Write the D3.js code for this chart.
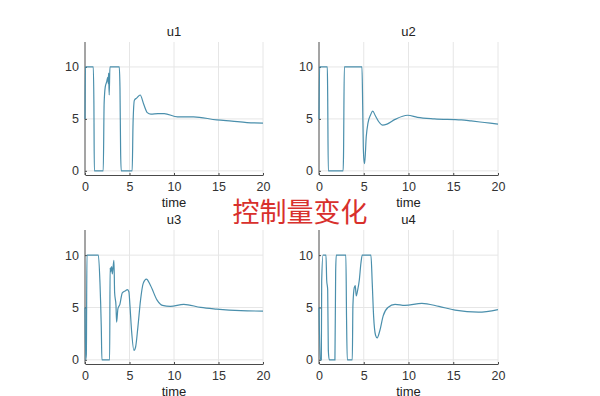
<!DOCTYPE html>
<html lang="zh">
<head>
    <meta charset="UTF-8">
    <title>控制量变化</title>
    <script src="https://d3js.org/d3.v7.min.js"></script>
    <style>
        body {
            margin: 0;
            padding: 0;
            background-color: white;
        }
        svg {
            display: block;
            font-family: 'Liberation Sans', Arial, sans-serif;
        }
    </style>
</head>
<body>
    <svg width="600" height="396"></svg>

    <script>
        // data: [time, value]
        const u1 = [[0,5],[0.05,10],[0.93,10],[1.0,6.5],[1.05,0],[2.05,0],[2.15,6.5],[2.28,8.1],[2.45,8.6],[2.55,9.0],[2.62,8.4],[2.65,9.4],[2.72,7.3],[2.8,10],
                    [3.85,10],[3.93,8],[4.0,2],[4.07,0],[5.3,0],[5.4,4.6],[5.55,6.8],[5.8,7.0],[6.2,7.3],[6.6,6.4],[7.0,5.6],[7.4,5.45],[8.2,5.5],[8.9,5.5],[10.4,5.2],
                    [12.2,5.2],[14.8,4.9],[16.5,4.78],[18.2,4.65],[20,4.6]];
        const u2 = [[0,5],[0.07,10],[0.93,10],[0.97,7.3],[1.04,0],[2.7,0],[2.74,1.5],[2.83,10],[4.8,10],[4.88,6.3],[4.95,2.3],[5.03,1.0],[5.1,0.7],[5.28,3.3],
                    [5.47,4.6],[5.77,5.4],[6.0,5.75],[6.3,5.3],[6.7,4.7],[7.1,4.4],[7.6,4.5],[8.5,4.95],[9.9,5.35],[11.0,5.15],[12.9,5.0],[15.9,4.9],[17.0,4.8],[18.5,4.65],[20,4.5]];
        const u3 = [[0,5],[0.08,0],[0.15,0.5],[0.22,10],[1.5,10],[1.68,7.4],[1.83,3.1],[1.9,0],[2.77,0],[2.82,8.8],[2.88,8.4],[3.0,8.9],[3.07,8.2],[3.25,9.5],[3.33,6.4],
                    [3.48,5.2],[3.55,3.6],[3.7,4.9],[3.92,5.3],[4.19,6.4],[4.56,6.6],[4.75,6.7],[4.93,6.5],[5.05,5.2],[5.23,2.8],[5.5,0.9],[5.68,1.2],[5.94,3.1],
                    [6.24,5.7],[6.54,7.3],[6.9,7.7],[7.36,7.1],[8.1,5.7],[8.7,5.2],[9.6,5.1],[11.1,5.3],[13.0,5.0],[14.8,4.85],[17.5,4.7],[20,4.65]];
        const u4 = [[0,5],[0.15,0],[0.26,0],[0.3,7.5],[0.45,10],[0.78,10],[0.86,7.6],[0.97,6.7],[1.04,0.9],[1.15,0],[1.78,0],[1.86,8.3],[1.93,10],[3.0,10],[3.08,3.8],
                    [3.16,0],[3.72,0],[3.79,5.2],[3.94,6.9],[4.05,7.1],[4.16,6.1],[4.31,6.6],[4.5,7.6],[4.68,9.2],[4.83,10],[5.8,10],[5.95,7.3],[6.1,4.2],[6.32,2.35],
                    [6.5,2.1],[6.8,2.8],[7.17,4.2],[7.7,5.0],[8.5,5.3],[9.6,5.2],[11.5,5.4],[13.4,5.1],[15.2,4.75],[17.8,4.55],[20,4.8]];

        const titles = ["u1", "u2", "u3", "u4"];
        const series = [u1, u2, u3, u4];
        const xTicks = [0, 5, 10, 15, 20];
        const yTicks = [0, 5, 10];

        const svg = d3.select("svg");
        const lineColor = "#4a8fac";

        // panel boxes: left, right, top, bottom
        const panels = [
            {x0: 85, x1: 263, y0: 42, y1: 175},
            {x0: 319, x1: 498, y0: 42, y1: 175},
            {x0: 85, x1: 263, y0: 230, y1: 364},
            {x0: 319, x1: 498, y0: 230, y1: 364}
        ];

        panels.forEach(function(p, i) {
            const x = d3.scaleLinear().domain([0, 20]).range([p.x0, p.x1]);
            const y = d3.scaleLinear().domain([-0.4, 12.4]).range([p.y1, p.y0]);
            const g = svg.append("g");

            // grid
            g.selectAll(".vgrid")
              .data(xTicks.slice(1))
              .enter().append("line")
              .attr("x1", d => x(d)).attr("x2", d => x(d))
              .attr("y1", p.y0).attr("y2", p.y1)
              .attr("stroke", "#e6e6e6").attr("stroke-width", 1);
            g.selectAll(".hgrid")
              .data(yTicks)
              .enter().append("line")
              .attr("x1", p.x0).attr("x2", p.x1)
              .attr("y1", d => y(d)).attr("y2", d => y(d))
              .attr("stroke", "#e6e6e6").attr("stroke-width", 1);

            // axes
            const xAxis = g.append("g")
              .attr("transform", `translate(0,${p.y1})`)
              .call(d3.axisBottom(x).tickValues(xTicks).tickSizeInner(-2).tickSizeOuter(0).tickPadding(7));
            const yAxis = g.append("g")
              .attr("transform", `translate(${p.x0},0)`)
              .call(d3.axisLeft(y).tickValues(yTicks).tickSizeInner(-2).tickSizeOuter(0).tickPadding(6));
            [xAxis, yAxis].forEach(a => {
                a.select(".domain").attr("stroke", "#4a4a4a");
                a.selectAll(".tick line").attr("stroke", "#4a4a4a");
                a.selectAll("text").attr("fill", "#333").style("font-size", "12.5px")
                  .style("font-family", "'Liberation Sans', Arial, sans-serif");
            });
            // y axis runs full height
            yAxis.select(".domain").attr("d", `M0,${p.y0}V${p.y1}`);

            g.append("path")
              .datum(series[i])
              .attr("fill", "none")
              .attr("stroke", lineColor)
              .attr("stroke-width", 1.2)
              .attr("d", d3.line().curve(d3.curveMonotoneX).x(d => x(d[0])).y(d => y(d[1])));

            g.append("text")
              .attr("x", (p.x0 + p.x1) / 2)
              .attr("y", p.y0 - 6)
              .attr("text-anchor", "middle")
              .attr("fill", "#222")
              .style("font-size", "13px")
              .text(titles[i]);

            g.append("text")
              .attr("x", (p.x0 + p.x1) / 2)
              .attr("y", p.y1 + 32)
              .attr("text-anchor", "middle")
              .attr("fill", "#222")
              .style("font-size", "13px")
              .text("time");
        });

        svg.append("text")
          .attr("x", 300)
          .attr("y", 222)
          .attr("text-anchor", "middle")
          .attr("fill", "#d8302c")
          .style("font-family", "'Noto Sans CJK SC', sans-serif")
          .style("font-size", "27px")
          .text("控制量变化");
    </script>
</body>
</html>
